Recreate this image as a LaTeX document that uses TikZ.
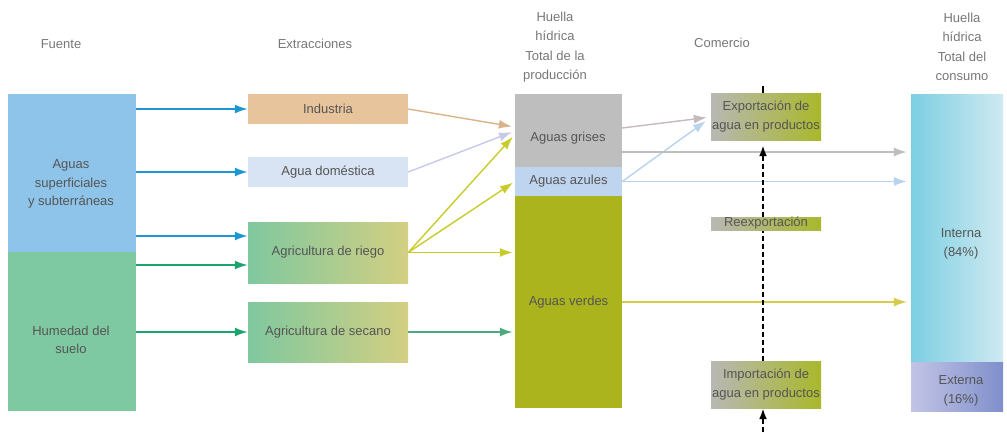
\documentclass[tikz,border=0pt]{standalone}
\usepackage{fontspec}
\setmainfont{Liberation Sans}
\usetikzlibrary{arrows.meta}
\definecolor{srcblue}{HTML}{8EC4EA}
\definecolor{soilgreen}{HTML}{7FC9A2}
\definecolor{indc}{HTML}{E8C49C}
\definecolor{domc}{HTML}{D8E4F3}
\definecolor{rieL}{HTML}{7FC89F}
\definecolor{rieR}{HTML}{D3CF82}
\definecolor{grisc}{HTML}{BEBEBE}
\definecolor{azulc}{HTML}{BFD4EF}
\definecolor{verdec}{HTML}{ABB41C}
\definecolor{comL}{HTML}{B8B8B4}
\definecolor{comR}{HTML}{A9B82A}
\definecolor{intL}{HTML}{7CCFE2}
\definecolor{intR}{HTML}{CFE9F1}
\definecolor{extL}{HTML}{C2C4E6}
\definecolor{extR}{HTML}{7F8FCB}
\definecolor{txtc}{HTML}{555555}
\definecolor{hdrc}{HTML}{777777}
\definecolor{aBlue}{HTML}{1E96D2}
\definecolor{aGreen}{HTML}{1FA36E}
\definecolor{aTan}{HTML}{D9B48A}
\definecolor{aLav}{HTML}{C7C9EA}
\definecolor{aYel}{HTML}{C8CC2A}
\definecolor{aGray}{HTML}{C4BCBC}
\definecolor{aLBlue}{HTML}{B8D3EE}
\definecolor{aOlive}{HTML}{D4CC4A}
\definecolor{aTeal}{HTML}{4DAA80}
\begin{document}
\begin{tikzpicture}[x=1pt,y=-1pt,
  font=\fontsize{13}{18.5}\selectfont,
  box/.style={rectangle, inner sep=0pt, draw=none, text=txtc, align=center},
  txtn/.style={inner sep=0pt, text=txtc, align=center},
  hdr/.style={inner sep=0pt, text=hdrc, align=center, font=\fontsize{13}{19.5}\selectfont},
  arr/.style={line width=1.8pt, -{Latex[length=13pt,width=9pt]}},
  dashln/.style={line width=2.4pt, black, dash pattern=on 5pt off 3pt},
  dtip/.style={-{Latex[length=11pt,width=8pt]}}]
\useasboundingbox (0,0) rectangle (1007,432);

% headers
\node[hdr] (h1) at (61,44) {Fuente};
\node[hdr] (h2) at (315,44) {Extracciones};
\node[hdr] (h3) at (555,47) {Huella\\hídrica\\Total de la\\producción};
\node[hdr] (h4) at (722,43) {Comercio};
\node[hdr] (h5) at (962,47) {Huella\\hídrica\\Total del\\consumo};

% sources
\node[box, fill=srcblue, minimum width=128pt, minimum height=158pt] (src1) at (72,173) {};
\node[txtn] (src1t) at (71,184) {Aguas\\superficiales\\y subterráneas};
\node[box, fill=soilgreen, minimum width=128pt, minimum height=159pt] (src2) at (72,331.5) {};
\node[txtn] (src2t) at (71,340) {Humedad del\\suelo};

% extractions
\node[box, fill=indc, minimum width=160pt, minimum height=30pt] (ind) at (328,109) {Industria};
\node[box, fill=domc, minimum width=160pt, minimum height=30pt] (dom) at (328,172) {Agua doméstica};
\node[box, left color=rieL, right color=rieR, minimum width=160pt, minimum height=61pt] (rie) at (328,252.5) {Agricultura de riego};
\node[box, left color=rieL, right color=rieR, minimum width=160pt, minimum height=60pt] (sec) at (328,332) {Agricultura de secano};

% production footprint
\node[box, fill=grisc, minimum width=107pt, minimum height=73pt] (gris) at (568.5,130.5) {};
\node[txtn] (grist) at (568,138) {Aguas grises};
\node[box, fill=azulc, minimum width=107pt, minimum height=29pt] (azul) at (568.5,181.5) {Aguas azules};
\node[box, fill=verdec, minimum width=107pt, minimum height=212pt] (verde) at (568.5,302) {Aguas verdes};

% trade
\node[box, left color=comL, right color=comR, minimum width=110pt, minimum height=47pt] (export) at (766,116.5) {Exportación de\\agua en productos};
\node[box, left color=comL, right color=comR, minimum width=110pt, minimum height=47pt] (import) at (766,384.5) {Importación de\\agua en productos};

% consumption footprint
\node[box, left color=intL, right color=intR, minimum width=92pt, minimum height=268pt] (interna) at (957,228) {};
\node[txtn] (internat) at (961,244) {Interna\\(84\%)};
\node[box, left color=extL, right color=extR, minimum width=92pt, minimum height=49pt] (externa) at (957,386.5) {};
\node[txtn] (externat) at (961,391) {Externa\\(16\%)};

% sources -> extractions
\draw[arr, aBlue] (src1.east |- ind.west) -- (ind.west);
\draw[arr, aBlue] (src1.east |- dom.west) -- (dom.west);
\draw[arr, aBlue] (src1.east |- 0,236) -- ([yshift=16.5pt]rie.west);
\draw[arr, aGreen] (src2.east |- 0,265) -- ([yshift=-12.5pt]rie.west);
\draw[arr, aGreen] (src2.east |- sec.west) -- (sec.west);

% extractions -> production
\draw[arr, aTan, line width=1.4pt, shorten >=3pt] (ind.east) -- ([yshift=3.5pt]gris.west);
\draw[arr, aLav, line width=1.4pt, shorten >=3pt] (dom.east) -- ([yshift=-0.5pt]gris.west);
\draw[arr, aYel, line width=1.4pt, shorten >=3pt] (rie.east) -- ([yshift=-4pt]gris.west);
\draw[arr, aYel, line width=1.4pt, shorten >=2pt] (rie.east) -- (azul.west);
\draw[arr, aYel, line width=1.4pt, shorten >=2pt] (rie.east) -- (verde.west |- rie.east);
\draw[arr, aTeal, shorten >=2pt] (sec.east) -- (verde.west |- sec.east);

% production -> trade / consumption
\draw[arr, aGray, line width=1.4pt, shorten >=4pt] ([yshift=2.5pt]gris.east) -- ([yshift=-0.5pt]export.west);
\draw[arr, aLBlue, line width=1.4pt, shorten >=6pt] (azul.east) -- ([yshift=-1pt]export.west);
\draw[arr, grisc, line width=1.4pt, shorten >=4pt] ([yshift=-21.5pt]gris.east) -- (interna.west |- 0,152);
\draw[arr, aLBlue, line width=1.4pt, shorten >=4pt] (azul.east) -- (interna.west |- azul.east);
\draw[arr, aOlive, line width=1.4pt, shorten >=4pt] (verde.east) -- (interna.west |- verde.east);

% trade flow (dashed)
\coordinate (bot) at (763,432);
\coordinate (topc) at (763,86);
\draw[dashln, dtip] (bot) -- (bot |- import.south);
\draw[dashln, dtip, shorten >=5pt] (bot |- import.north) -- (bot |- export.south);
\draw[line width=2pt, black] (bot |- export.north) -- (topc);

\node[box, left color=comL, right color=comR, minimum width=110pt, minimum height=13pt] (reexp) at (766,223.5) {Reexportación};
\end{tikzpicture}
\end{document}
